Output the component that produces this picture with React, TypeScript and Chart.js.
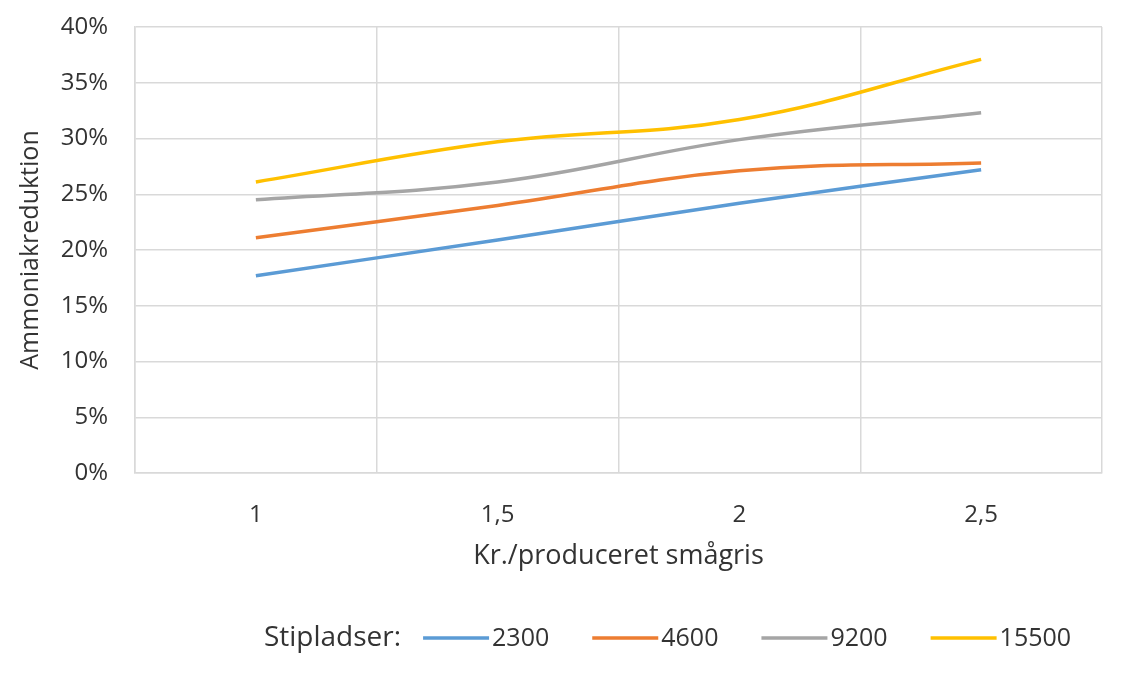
import React, { useEffect, useRef } from "react";
import { Chart, registerables } from "chart.js";

Chart.register(...registerables);

const categories = ["1", "1,5", "2", "2,5"];
const seriesNames = ["2300", "4600", "9200", "15500"];
const s2300 = [17.7, 20.9, 24.2, 27.2];
const s4600 = [21.1, 24.0, 27.1, 27.8];
const s9200 = [24.5, 26.1, 29.9, 32.3];
const s15500 = [26.1, 29.7, 31.7, 37.1];
const colors = ["#5B9BD5", "#ED7D31", "#A5A5A5", "#FFC000"];
const yTicks = [0, 5, 10, 15, 20, 25, 30, 35, 40];
const legendTitle = "Stipladser:";
const xTitle = "Kr./produceret smågris";
const yTitle = "Ammoniakreduktion";

const FONT = "'Open Sans', sans-serif";
const TEXT = "#333333";

const legendPlugin = {
  id: "customLegend",
  afterDraw(chart: any) {
    const ctx = chart.ctx;
    const items = chart.data.datasets.map((d: any) => ({ label: d.label, color: d.borderColor }));
    ctx.save();
    ctx.textBaseline = "middle";
    ctx.textAlign = "left";
    ctx.fillStyle = TEXT;
    const y = 638;
    const swatch = 66;
    const gapTitle = 22;
    const gapText = 3;
    const gapAfter = 43;
    ctx.font = `28px ${FONT}`;
    const titleW = ctx.measureText(legendTitle).width;
    ctx.font = `25px ${FONT}`;
    const widths = items.map((it: any) => ctx.measureText(it.label).width);
    let total = titleW + gapTitle;
    widths.forEach((w: number) => (total += swatch + gapText + w + gapAfter));
    total -= gapAfter;
    const center = (chart.chartArea.left + chart.chartArea.right) / 2 + 49;
    let x = center - total / 2;
    ctx.font = `28px ${FONT}`;
    ctx.fillText(legendTitle, x, y);
    x += titleW + gapTitle;
    ctx.font = `25px ${FONT}`;
    items.forEach((it: any, i: number) => {
      ctx.strokeStyle = it.color;
      ctx.lineWidth = 3.5;
      ctx.beginPath();
      ctx.moveTo(x, y);
      ctx.lineTo(x + swatch, y);
      ctx.stroke();
      x += swatch + gapText;
      ctx.fillStyle = TEXT;
      ctx.fillText(it.label, x, y + 1);
      x += widths[i] + gapAfter;
    });
    ctx.restore();
  },
};

export default function App() {
  const ref = useRef<HTMLCanvasElement>(null);
  useEffect(() => {
    document.body.style.margin = "0";
    const values = [s2300, s4600, s9200, s15500];
    const chart = new Chart(ref.current!, {
      type: "line",
      data: {
        labels: categories,
        datasets: values.map((v, i) => ({
          label: seriesNames[i],
          data: v,
          borderColor: colors[i],
          backgroundColor: colors[i],
          borderWidth: 3.5,
          tension: 0.4,
          pointRadius: 0,
          fill: false,
        })),
      },
      options: {
        animation: false,
        responsive: false,
        maintainAspectRatio: false,
        layout: { padding: { left: 0, right: 30, top: 27, bottom: 105 } },
        plugins: { legend: { display: false }, tooltip: { enabled: false } },
        scales: {
          x: {
            offset: true,
            grid: { offset: true, color: "#d9d9d9", lineWidth: 1.5, drawTicks: false },
            border: { color: "#d9d9d9", width: 1.5 },
            ticks: { color: TEXT, font: { family: FONT, size: 24 }, padding: 28 },
            title: { display: true, text: xTitle, color: TEXT, font: { family: FONT, size: 27 }, padding: { top: 4, bottom: 4 } },
            afterFit: (s: any) => { s.height = 104; s.paddingLeft = 0; s.paddingRight = 0; },
          },
          y: {
            min: 0,
            max: 40,
            afterBuildTicks: (s: any) => { s.ticks = yTicks.map((v) => ({ value: v })); },
            grid: { color: "#d9d9d9", lineWidth: 1.5, drawTicks: false },
            border: { color: "#d9d9d9", width: 1.5 },
            ticks: { color: TEXT, font: { family: FONT, size: 24 }, padding: 27, callback: (v: any) => v + "%" },
            title: { display: true, text: yTitle, color: TEXT, font: { family: FONT, size: 25 }, padding: { top: 16, bottom: 0 } },
            afterFit: (s: any) => { s.width = 135; s.paddingTop = 0; s.paddingBottom = 0; },
          },
        },
      },
      plugins: [legendPlugin],
    });
    return () => chart.destroy();
  }, []);
  return (
    <div style={{ width: 1132, height: 682, background: "#fff" }}>
      <canvas ref={ref} width={1132} height={682} style={{ display: "block" }} />
    </div>
  );
}
